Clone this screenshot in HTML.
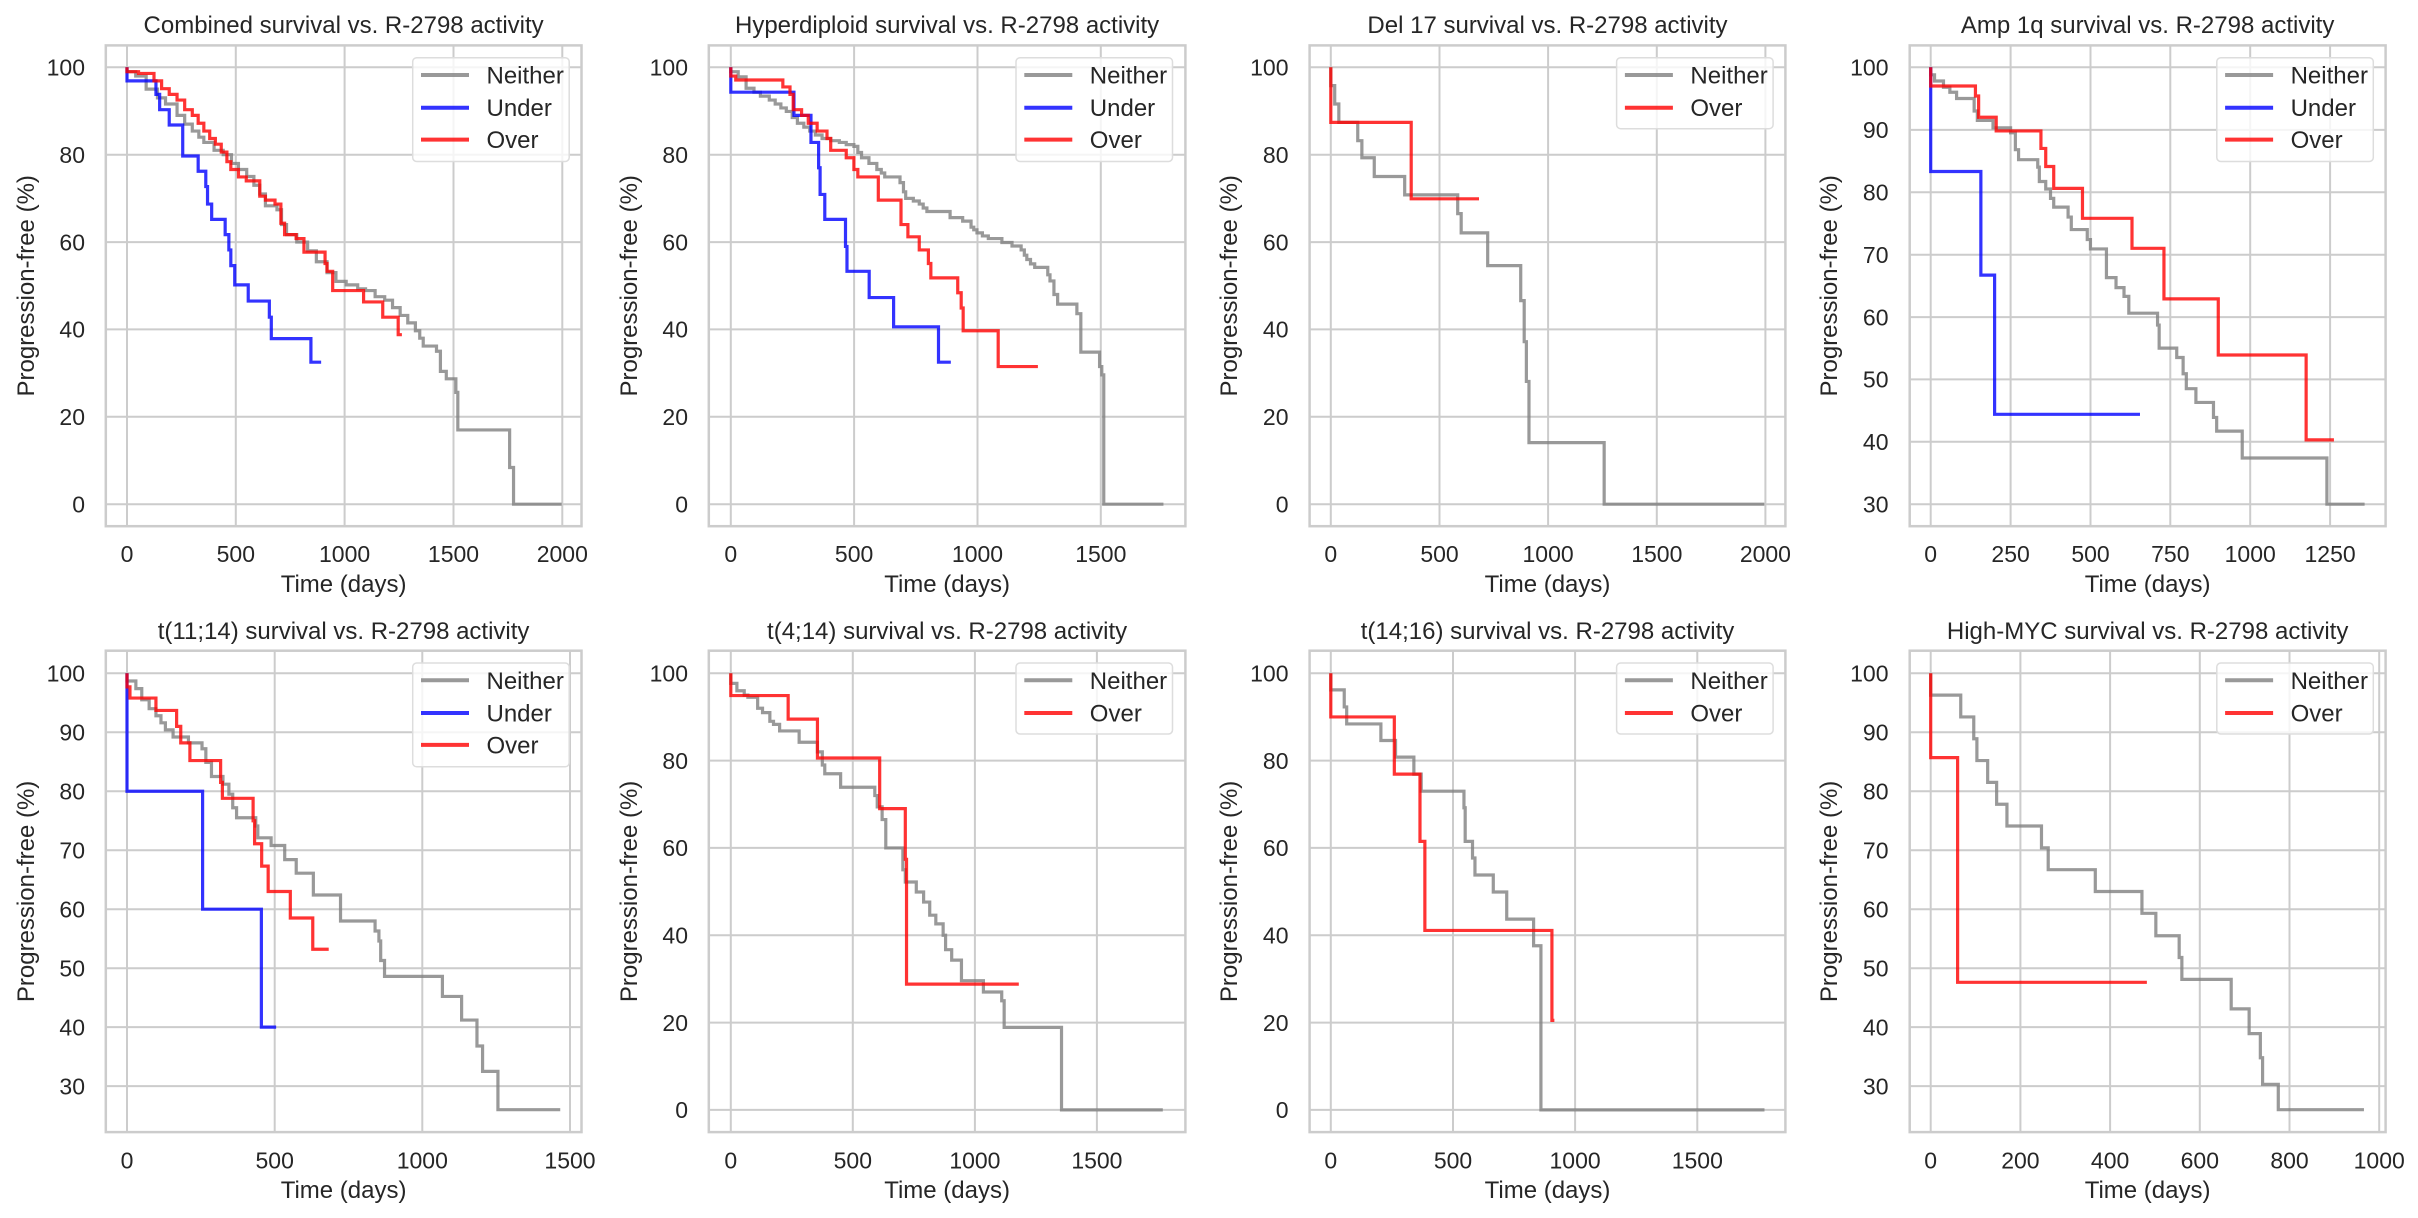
<!DOCTYPE html>
<html><head><meta charset="utf-8"><style>
html,body{margin:0;padding:0;background:#fff}
svg{display:block}
text{font-family:"Liberation Sans",Arial,sans-serif;fill:#262626}
.t{font-size:24px;text-anchor:middle}
.yt{font-size:23px;text-anchor:end}
.xt{font-size:23px;text-anchor:middle}
.lab{font-size:24px;text-anchor:middle}
.lg{font-size:24px}
.grid line{stroke:#cccccc;stroke-width:2}
.frame{fill:none;stroke:#cccccc;stroke-width:2.5}
.c path{fill:none;stroke-width:3.2;vector-effect:non-scaling-stroke;stroke-opacity:.8}
.g{stroke:#808080}.b{stroke:#0000ff}.r{stroke:#ff0000}
.leg rect{fill:#fff;fill-opacity:.8;stroke:#dddddd;stroke-width:1.5}
.leg line{stroke-width:4;stroke-opacity:.8}
</style></head><body>
<svg width="2418" height="1218" viewBox="0 0 2418 1218" xmlns="http://www.w3.org/2000/svg">
<rect width="2418" height="1218" fill="#fff"/>

<!-- ================= P1 ================= -->
<g class="grid">
<line x1="127" y1="45.4" x2="127" y2="526.2"/><line x1="235.8" y1="45.4" x2="235.8" y2="526.2"/><line x1="344.6" y1="45.4" x2="344.6" y2="526.2"/><line x1="453.5" y1="45.4" x2="453.5" y2="526.2"/><line x1="562.3" y1="45.4" x2="562.3" y2="526.2"/>
<line x1="105.8" y1="504.2" x2="581.5" y2="504.2"/><line x1="105.8" y1="416.8" x2="581.5" y2="416.8"/><line x1="105.8" y1="329.4" x2="581.5" y2="329.4"/><line x1="105.8" y1="242.1" x2="581.5" y2="242.1"/><line x1="105.8" y1="154.7" x2="581.5" y2="154.7"/><line x1="105.8" y1="67.3" x2="581.5" y2="67.3"/>
</g>
<rect class="frame" x="105.8" y="45.4" width="475.7" height="480.8"/>
<g class="c" transform="translate(127,504.2) scale(0.21765,-4.369)">
<path class="g" d="M0,100 V99 H40 V98 H88 V95 H140 V93 H177 V91.6 H230 V89 H265 V87 H300 V85.4 H330 V84 H353 V82.8 H400 V81 H442 V80 H480 V78 H512 V76.6 H550 V75 H583 V73 H610 V71 H636 V68.3 H689 V67.4 H710 V64 H733 V61.7 H780 V60 H830 V58 H870 V55.5 H919 V53 H960 V51 H1007 V50.2 H1060 V49.3 H1096 V48.9 H1140 V47.5 H1184 V46.7 H1220 V45 H1255 V43.2 H1290 V41.5 H1325 V39.7 H1345 V38 H1361 V36.2 H1422 V35 H1440 V30.4 H1467 V28.7 H1511 V25.6 H1520 V17 H1758 V8.4 H1776 V0 H1997"/>
<path class="b" d="M0,100 V96.9 H133 V93.8 H150 V90.3 H194 V86.8 H256 V79.7 H327 V76.2 H362 V72.7 H370 V68.7 H389 V65.2 H451 V61.7 H468 V58.2 H477 V54.6 H495 V50.2 H557 V46.5 H654 V42.8 H663 V37.9 H845 V32.5 H892"/>
<path class="r" d="M0,100 V99 H53 V98.6 H124 V96.9 H159 V95.1 H194 V93.8 H230 V92.5 H265 V90.3 H300 V89 H327 V87.2 H353 V85.4 H380 V83.7 H406 V82.4 H433 V80.6 H459 V78.4 H477 V76.6 H512 V74.9 H548 V74 H610 V70.5 H636 V69.6 H680 V68.7 H707 V64.3 H724 V61.7 H777 V60.8 H813 V57.7 H910 V55.1 H919 V53.3 H945 V48.9 H1087 V46.3 H1175 V42.8 H1246 V38.8 H1263"/>
</g>
<g class="leg"><rect x="412.7" y="57.7" width="156.5" height="103.8" rx="4"/>
<line x1="421" y1="75" x2="469" y2="75" stroke="#808080"/><text class="lg" x="486.5" y="83.5">Neither</text>
<line x1="421" y1="107.7" x2="469" y2="107.7" stroke="#0000ff"/><text class="lg" x="486.5" y="116.2">Under</text>
<line x1="421" y1="139.6" x2="469" y2="139.6" stroke="#ff0000"/><text class="lg" x="486.5" y="148.1">Over</text></g>
<text class="t" x="343.6" y="33">Combined survival vs. R-2798 activity</text>
<g class="yt"><text class="yt" x="85" y="512.5">0</text><text class="yt" x="85" y="425">20</text><text class="yt" x="85" y="337.7">40</text><text class="yt" x="85" y="250.4">60</text><text class="yt" x="85" y="163">80</text><text class="yt" x="85" y="75.6">100</text></g>
<text class="xt" x="127" y="562">0</text><text class="xt" x="235.8" y="562">500</text><text class="xt" x="344.6" y="562">1000</text><text class="xt" x="453.5" y="562">1500</text><text class="xt" x="562.3" y="562">2000</text>
<text class="lab" x="343.6" y="592">Time (days)</text>
<text class="lab" transform="translate(34,285.8) rotate(-90)">Progression-free (%)</text>

<!-- ================= P2 ================= -->
<g class="grid">
<line x1="730.8" y1="45.4" x2="730.8" y2="526.2"/><line x1="854.1" y1="45.4" x2="854.1" y2="526.2"/><line x1="977.5" y1="45.4" x2="977.5" y2="526.2"/><line x1="1100.8" y1="45.4" x2="1100.8" y2="526.2"/>
<line x1="708.8" y1="504.2" x2="1185.4" y2="504.2"/><line x1="708.8" y1="416.8" x2="1185.4" y2="416.8"/><line x1="708.8" y1="329.4" x2="1185.4" y2="329.4"/><line x1="708.8" y1="242.1" x2="1185.4" y2="242.1"/><line x1="708.8" y1="154.7" x2="1185.4" y2="154.7"/><line x1="708.8" y1="67.3" x2="1185.4" y2="67.3"/>
</g>
<rect class="frame" x="708.8" y="45.4" width="476.6" height="480.8"/>
<g class="c" transform="translate(730.8,504.2) scale(0.24667,-4.369)">
<path class="g" d="M0,100 V99 H30 V97.8 H62 V95.2 H94 V94.3 H120 V93.4 H156 V92.5 H180 V91.6 H203 V90.7 H225 V89.9 H249 V88.5 H270 V87.2 H296 V86.3 H320 V85.4 H343 V84.5 H370 V83.7 H405 V83.2 H440 V82.8 H468 V82.3 H499 V81.9 H515 V80.5 H530 V79.3 H560 V78 H592 V76.6 H610 V75.8 H624 V74.9 H686 V73.6 H700 V71.5 H709 V70 H740 V69.4 H764 V68.7 H780 V67.8 H795 V67 H889 V65.6 H940 V64.8 H974 V63.4 H985 V62.8 H998 V62.1 H1020 V61.4 H1044 V60.8 H1099 V59.9 H1140 V59.1 H1177 V58.2 H1190 V57 H1200 V56 H1215 V55 H1232 V54.2 H1285 V52.5 H1294 V51.1 H1310 V48 H1325 V45.8 H1403 V43.6 H1419 V34.8 H1495 V31.5 H1504 V29.6 H1512 V0 H1754"/>
<path class="b" d="M0,100 V94.3 H256 V89 H325 V82.8 H356 V77 H362 V70.9 H381 V65.2 H465 V59 H471 V53.3 H561 V47.3 H660 V40.6 H842 V32.5 H892"/>
<path class="r" d="M0,100 V98 H20 V97.1 H211 V95.5 H240 V93.8 H253 V90.3 H287 V89 H314 V87.2 H350 V85.4 H390 V83.7 H405 V81 H468 V79.3 H499 V76.6 H515 V74.9 H598 V69.6 H690 V64 H718 V61.2 H764 V58.2 H801 V55.1 H811 V51.8 H920 V48.4 H934 V44.9 H942 V39.7 H1084 V31.5 H1245"/>
</g>
<g class="leg"><rect x="1016" y="57.7" width="156.5" height="103.8" rx="4"/>
<line x1="1024.3" y1="75" x2="1072.3" y2="75" stroke="#808080"/><text class="lg" x="1089.8" y="83.5">Neither</text>
<line x1="1024.3" y1="107.7" x2="1072.3" y2="107.7" stroke="#0000ff"/><text class="lg" x="1089.8" y="116.2">Under</text>
<line x1="1024.3" y1="139.6" x2="1072.3" y2="139.6" stroke="#ff0000"/><text class="lg" x="1089.8" y="148.1">Over</text></g>
<text class="t" x="947.1" y="33">Hyperdiploid survival vs. R-2798 activity</text>
<text class="yt" x="688" y="512.5">0</text><text class="yt" x="688" y="425">20</text><text class="yt" x="688" y="337.7">40</text><text class="yt" x="688" y="250.4">60</text><text class="yt" x="688" y="163">80</text><text class="yt" x="688" y="75.6">100</text>
<text class="xt" x="730.8" y="562">0</text><text class="xt" x="854.1" y="562">500</text><text class="xt" x="977.5" y="562">1000</text><text class="xt" x="1100.8" y="562">1500</text>
<text class="lab" x="947.1" y="592">Time (days)</text>
<text class="lab" transform="translate(637,285.8) rotate(-90)">Progression-free (%)</text>

<!-- ================= P3 ================= -->
<g class="grid">
<line x1="1330.8" y1="45.4" x2="1330.8" y2="526.2"/><line x1="1439.5" y1="45.4" x2="1439.5" y2="526.2"/><line x1="1548.1" y1="45.4" x2="1548.1" y2="526.2"/><line x1="1656.8" y1="45.4" x2="1656.8" y2="526.2"/><line x1="1765.4" y1="45.4" x2="1765.4" y2="526.2"/>
<line x1="1309.6" y1="504.2" x2="1785.4" y2="504.2"/><line x1="1309.6" y1="416.8" x2="1785.4" y2="416.8"/><line x1="1309.6" y1="329.4" x2="1785.4" y2="329.4"/><line x1="1309.6" y1="242.1" x2="1785.4" y2="242.1"/><line x1="1309.6" y1="154.7" x2="1785.4" y2="154.7"/><line x1="1309.6" y1="67.3" x2="1785.4" y2="67.3"/>
</g>
<rect class="frame" x="1309.6" y="45.4" width="475.8" height="480.8"/>
<g class="c" transform="translate(1330.8,504.2) scale(0.2173,-4.369)">
<path class="g" d="M0,100 V95.8 H18 V91.6 H37 V87.4 H124 V83.2 H143 V79.3 H200 V75 H340 V70.8 H584 V66.5 H600 V62.1 H722 V54.6 H874 V46.6 H890 V37.2 H900 V28.1 H912 V14.1 H1258 V0 H1995"/>
<path class="r" d="M0,100 V87.4 H370 V69.9 H682"/>
</g>
<g class="leg"><rect x="1616.6" y="57.7" width="156.5" height="71" rx="4"/>
<line x1="1624.9" y1="75" x2="1672.9" y2="75" stroke="#808080"/><text class="lg" x="1690.4" y="83.5">Neither</text>
<line x1="1624.9" y1="107.7" x2="1672.9" y2="107.7" stroke="#ff0000"/><text class="lg" x="1690.4" y="116.2">Over</text></g>
<text class="t" x="1547.5" y="33">Del 17 survival vs. R-2798 activity</text>
<text class="yt" x="1288.5" y="512.5">0</text><text class="yt" x="1288.5" y="425">20</text><text class="yt" x="1288.5" y="337.7">40</text><text class="yt" x="1288.5" y="250.4">60</text><text class="yt" x="1288.5" y="163">80</text><text class="yt" x="1288.5" y="75.6">100</text>
<text class="xt" x="1330.8" y="562">0</text><text class="xt" x="1439.5" y="562">500</text><text class="xt" x="1548.1" y="562">1000</text><text class="xt" x="1656.8" y="562">1500</text><text class="xt" x="1765.4" y="562">2000</text>
<text class="lab" x="1547.5" y="592">Time (days)</text>
<text class="lab" transform="translate(1237,285.8) rotate(-90)">Progression-free (%)</text>

<!-- ================= P4 ================= -->
<g class="grid">
<line x1="1930.7" y1="45.4" x2="1930.7" y2="526.2"/><line x1="2010.6" y1="45.4" x2="2010.6" y2="526.2"/><line x1="2090.5" y1="45.4" x2="2090.5" y2="526.2"/><line x1="2170.3" y1="45.4" x2="2170.3" y2="526.2"/><line x1="2250.2" y1="45.4" x2="2250.2" y2="526.2"/><line x1="2330.1" y1="45.4" x2="2330.1" y2="526.2"/>
<line x1="1909.7" y1="504.2" x2="2385.6" y2="504.2"/><line x1="1909.7" y1="441.8" x2="2385.6" y2="441.8"/><line x1="1909.7" y1="379.4" x2="2385.6" y2="379.4"/><line x1="1909.7" y1="317.1" x2="2385.6" y2="317.1"/><line x1="1909.7" y1="254.7" x2="2385.6" y2="254.7"/><line x1="1909.7" y1="192.3" x2="2385.6" y2="192.3"/><line x1="1909.7" y1="129.9" x2="2385.6" y2="129.9"/><line x1="1909.7" y1="67.3" x2="2385.6" y2="67.3"/>
</g>
<rect class="frame" x="1909.7" y="45.4" width="475.9" height="480.8"/>
<g class="c" transform="translate(1930.7,691.4) scale(0.31952,-6.241)">
<path class="g" d="M0,100 V98.8 H12 V97.8 H40 V96.8 H60 V96 H81 V95 H136 V93 H146 V91.5 H195 V90.3 H250 V89.5 H265 V86.8 H275 V85.2 H335 V84 H340 V81.7 H360 V80.5 H375 V79 H385 V77.6 H430 V76 H440 V74 H490 V72.4 H500 V70.9 H550 V66.3 H580 V64.7 H605 V63.3 H620 V60.6 H710 V58.7 H715 V55 H770 V53.5 H790 V50.9 H800 V48.5 H830 V46.3 H885 V43.9 H895 V41.7 H975 V37.4 H1240 V30 H1358"/>
<path class="b" d="M0,100 V83.3 H157 V66.7 H200 V44.4 H655"/>
<path class="r" d="M0,100 V97 H140 V95.4 H150 V92 H205 V89.8 H345 V87 H360 V84.1 H385 V80.6 H475 V75.8 H630 V71 H730 V62.9 H900 V53.9 H1175 V40.3 H1262"/>
</g>
<g class="leg"><rect x="2216.8" y="57.7" width="156.5" height="103.8" rx="4"/>
<line x1="2225.1" y1="75" x2="2273.1" y2="75" stroke="#808080"/><text class="lg" x="2290.6" y="83.5">Neither</text>
<line x1="2225.1" y1="107.7" x2="2273.1" y2="107.7" stroke="#0000ff"/><text class="lg" x="2290.6" y="116.2">Under</text>
<line x1="2225.1" y1="139.6" x2="2273.1" y2="139.6" stroke="#ff0000"/><text class="lg" x="2290.6" y="148.1">Over</text></g>
<text class="t" x="2147.6" y="33">Amp 1q survival vs. R-2798 activity</text>
<text class="yt" x="1888.5" y="512.5">30</text><text class="yt" x="1888.5" y="450.1">40</text><text class="yt" x="1888.5" y="387.7">50</text><text class="yt" x="1888.5" y="325.4">60</text><text class="yt" x="1888.5" y="263">70</text><text class="yt" x="1888.5" y="200.6">80</text><text class="yt" x="1888.5" y="138.2">90</text><text class="yt" x="1888.5" y="75.6">100</text>
<text class="xt" x="1930.7" y="562">0</text><text class="xt" x="2010.6" y="562">250</text><text class="xt" x="2090.5" y="562">500</text><text class="xt" x="2170.3" y="562">750</text><text class="xt" x="2250.2" y="562">1000</text><text class="xt" x="2330.1" y="562">1250</text>
<text class="lab" x="2147.6" y="592">Time (days)</text>
<text class="lab" transform="translate(1837,285.8) rotate(-90)">Progression-free (%)</text>

<!-- ================= P5 ================= -->
<g class="grid">
<line x1="127" y1="650.7" x2="127" y2="1132.1"/><line x1="274.7" y1="650.7" x2="274.7" y2="1132.1"/><line x1="422.3" y1="650.7" x2="422.3" y2="1132.1"/><line x1="570" y1="650.7" x2="570" y2="1132.1"/>
<line x1="105.8" y1="1086.1" x2="581.5" y2="1086.1"/><line x1="105.8" y1="1027.1" x2="581.5" y2="1027.1"/><line x1="105.8" y1="968.2" x2="581.5" y2="968.2"/><line x1="105.8" y1="909.2" x2="581.5" y2="909.2"/><line x1="105.8" y1="850.3" x2="581.5" y2="850.3"/><line x1="105.8" y1="791.3" x2="581.5" y2="791.3"/><line x1="105.8" y1="732.3" x2="581.5" y2="732.3"/><line x1="105.8" y1="673.3" x2="581.5" y2="673.3"/>
</g>
<rect class="frame" x="105.8" y="650.7" width="475.7" height="481.4"/>
<g class="c" transform="translate(127,1263) scale(0.29533,-5.897)">
<path class="g" d="M0,100 V98.7 H30 V97.4 H50 V95.5 H75 V94 H98 V92.8 H115 V91.6 H130 V90.4 H156 V89.2 H208 V88.2 H254 V87.2 H267 V84.9 H286 V82.5 H325 V81.2 H345 V79.5 H358 V77.2 H371 V75.5 H436 V74.1 H443 V72.1 H488 V70.8 H534 V68.4 H573 V66.1 H631 V62.4 H723 V58 H840 V56.3 H853 V54.6 H859 V51.3 H872 V48.6 H1068 V45.2 H1133 V41.2 H1185 V36.8 H1204 V32.5 H1256 V26 H1467"/>
<path class="b" d="M0,100 V80 H256 V60 H455 V40 H505"/>
<path class="r" d="M0,100 V97.7 H10 V95.8 H98 V93.7 H168 V91 H182 V88.2 H213 V85.2 H317 V81.5 H323 V78.8 H427 V75 H432 V71.1 H456 V67.3 H478 V63 H553 V58.5 H629 V53.2 H683"/>
</g>
<g class="leg"><rect x="412.7" y="663" width="156.5" height="103.8" rx="4"/>
<line x1="421" y1="680.3" x2="469" y2="680.3" stroke="#808080"/><text class="lg" x="486.5" y="688.8">Neither</text>
<line x1="421" y1="713" x2="469" y2="713" stroke="#0000ff"/><text class="lg" x="486.5" y="721.5">Under</text>
<line x1="421" y1="744.9" x2="469" y2="744.9" stroke="#ff0000"/><text class="lg" x="486.5" y="753.4">Over</text></g>
<text class="t" x="343.6" y="639">t(11;14) survival vs. R-2798 activity</text>
<text class="yt" x="85" y="1094.4">30</text><text class="yt" x="85" y="1035.4">40</text><text class="yt" x="85" y="976.5">50</text><text class="yt" x="85" y="917.5">60</text><text class="yt" x="85" y="858.6">70</text><text class="yt" x="85" y="799.6">80</text><text class="yt" x="85" y="740.6">90</text><text class="yt" x="85" y="681.6">100</text>
<text class="xt" x="127" y="1168.5">0</text><text class="xt" x="274.7" y="1168.5">500</text><text class="xt" x="422.3" y="1168.5">1000</text><text class="xt" x="570" y="1168.5">1500</text>
<text class="lab" x="343.6" y="1198">Time (days)</text>
<text class="lab" transform="translate(34,891.4) rotate(-90)">Progression-free (%)</text>

<!-- ================= P6 ================= -->
<g class="grid">
<line x1="730.8" y1="650.7" x2="730.8" y2="1132.1"/><line x1="852.8" y1="650.7" x2="852.8" y2="1132.1"/><line x1="974.9" y1="650.7" x2="974.9" y2="1132.1"/><line x1="1096.9" y1="650.7" x2="1096.9" y2="1132.1"/>
<line x1="708.8" y1="1109.9" x2="1185.4" y2="1109.9"/><line x1="708.8" y1="1022.6" x2="1185.4" y2="1022.6"/><line x1="708.8" y1="935.3" x2="1185.4" y2="935.3"/><line x1="708.8" y1="847.9" x2="1185.4" y2="847.9"/><line x1="708.8" y1="760.6" x2="1185.4" y2="760.6"/><line x1="708.8" y1="673.3" x2="1185.4" y2="673.3"/>
</g>
<rect class="frame" x="708.8" y="650.7" width="476.6" height="481.4"/>
<g class="c" transform="translate(730.8,1109.9) scale(0.24407,-4.366)">
<path class="g" d="M0,100 V97.7 H25 V96 H55 V95 H70 V94.5 H110 V92 H130 V91 H160 V89 H175 V88.3 H200 V86.8 H280 V84.2 H355 V82 H375 V79 H385 V77 H450 V73.9 H590 V72 H600 V69.4 H620 V66.5 H635 V60 H705 V55 H715 V52.2 H760 V49.9 H790 V47.6 H815 V44.6 H840 V42.6 H870 V40 H880 V36.7 H905 V34.3 H945 V29.6 H1035 V27 H1110 V25 H1120 V18.9 H1355 V0 H1770"/>
<path class="r" d="M0,100 V94.9 H235 V89.5 H355 V80.6 H610 V69 H715 V57.4 H720 V28.8 H1180"/>
</g>
<g class="leg"><rect x="1016" y="663" width="156.5" height="71" rx="4"/>
<line x1="1024.3" y1="680.3" x2="1072.3" y2="680.3" stroke="#808080"/><text class="lg" x="1089.8" y="688.8">Neither</text>
<line x1="1024.3" y1="713" x2="1072.3" y2="713" stroke="#ff0000"/><text class="lg" x="1089.8" y="721.5">Over</text></g>
<text class="t" x="947.1" y="639">t(4;14) survival vs. R-2798 activity</text>
<text class="yt" x="688" y="1118.2">0</text><text class="yt" x="688" y="1030.9">20</text><text class="yt" x="688" y="943.6">40</text><text class="yt" x="688" y="856.2">60</text><text class="yt" x="688" y="768.9">80</text><text class="yt" x="688" y="681.6">100</text>
<text class="xt" x="730.8" y="1168.5">0</text><text class="xt" x="852.8" y="1168.5">500</text><text class="xt" x="974.9" y="1168.5">1000</text><text class="xt" x="1096.9" y="1168.5">1500</text>
<text class="lab" x="947.1" y="1198">Time (days)</text>
<text class="lab" transform="translate(637,891.4) rotate(-90)">Progression-free (%)</text>

<!-- ================= P7 ================= -->
<g class="grid">
<line x1="1330.8" y1="650.7" x2="1330.8" y2="1132.1"/><line x1="1453" y1="650.7" x2="1453" y2="1132.1"/><line x1="1575.1" y1="650.7" x2="1575.1" y2="1132.1"/><line x1="1697.3" y1="650.7" x2="1697.3" y2="1132.1"/>
<line x1="1309.6" y1="1109.9" x2="1785.4" y2="1109.9"/><line x1="1309.6" y1="1022.6" x2="1785.4" y2="1022.6"/><line x1="1309.6" y1="935.3" x2="1785.4" y2="935.3"/><line x1="1309.6" y1="847.9" x2="1785.4" y2="847.9"/><line x1="1309.6" y1="760.6" x2="1785.4" y2="760.6"/><line x1="1309.6" y1="673.3" x2="1785.4" y2="673.3"/>
</g>
<rect class="frame" x="1309.6" y="650.7" width="475.8" height="481.4"/>
<g class="c" transform="translate(1330.8,1109.9) scale(0.24433,-4.366)">
<path class="g" d="M0,100 V96.2 H55 V92.3 H65 V88.4 H205 V84.6 H265 V80.8 H340 V76.9 H370 V73 H545 V69.2 H550 V61.5 H580 V57.7 H590 V53.8 H665 V49.9 H720 V43.7 H830 V37.6 H860 V0 H1775"/>
<path class="r" d="M0,100 V90 H260 V76.9 H365 V61.5 H385 V41.1 H905 V20.5 H915"/>
</g>
<g class="leg"><rect x="1616.6" y="663" width="156.5" height="71" rx="4"/>
<line x1="1624.9" y1="680.3" x2="1672.9" y2="680.3" stroke="#808080"/><text class="lg" x="1690.4" y="688.8">Neither</text>
<line x1="1624.9" y1="713" x2="1672.9" y2="713" stroke="#ff0000"/><text class="lg" x="1690.4" y="721.5">Over</text></g>
<text class="t" x="1547.5" y="639">t(14;16) survival vs. R-2798 activity</text>
<text class="yt" x="1288.5" y="1118.2">0</text><text class="yt" x="1288.5" y="1030.9">20</text><text class="yt" x="1288.5" y="943.6">40</text><text class="yt" x="1288.5" y="856.2">60</text><text class="yt" x="1288.5" y="768.9">80</text><text class="yt" x="1288.5" y="681.6">100</text>
<text class="xt" x="1330.8" y="1168.5">0</text><text class="xt" x="1453" y="1168.5">500</text><text class="xt" x="1575.1" y="1168.5">1000</text><text class="xt" x="1697.3" y="1168.5">1500</text>
<text class="lab" x="1547.5" y="1198">Time (days)</text>
<text class="lab" transform="translate(1237,891.4) rotate(-90)">Progression-free (%)</text>

<!-- ================= P8 ================= -->
<g class="grid">
<line x1="1930.7" y1="650.7" x2="1930.7" y2="1132.1"/><line x1="2020.4" y1="650.7" x2="2020.4" y2="1132.1"/><line x1="2110.1" y1="650.7" x2="2110.1" y2="1132.1"/><line x1="2199.8" y1="650.7" x2="2199.8" y2="1132.1"/><line x1="2289.5" y1="650.7" x2="2289.5" y2="1132.1"/><line x1="2379.2" y1="650.7" x2="2379.2" y2="1132.1"/>
<line x1="1909.7" y1="1086.1" x2="2385.6" y2="1086.1"/><line x1="1909.7" y1="1027.1" x2="2385.6" y2="1027.1"/><line x1="1909.7" y1="968.2" x2="2385.6" y2="968.2"/><line x1="1909.7" y1="909.2" x2="2385.6" y2="909.2"/><line x1="1909.7" y1="850.3" x2="2385.6" y2="850.3"/><line x1="1909.7" y1="791.3" x2="2385.6" y2="791.3"/><line x1="1909.7" y1="732.3" x2="2385.6" y2="732.3"/><line x1="1909.7" y1="673.3" x2="2385.6" y2="673.3"/>
</g>
<rect class="frame" x="1909.7" y="650.7" width="475.9" height="481.4"/>
<g class="c" transform="translate(1930.7,1263) scale(0.4485,-5.897)">
<path class="g" d="M0,100 V96.3 H67 V92.6 H96 V88.9 H103 V85.2 H127 V81.5 H147 V77.8 H170 V74.1 H247 V70.4 H262 V66.7 H367 V63 H471 V59.3 H502 V55.5 H554 V51.8 H560 V48.1 H670 V43.1 H710 V38.9 H735 V34.8 H740 V30.3 H775 V26 H966"/>
<path class="r" d="M0,100 V85.7 H60 V47.6 H482"/>
</g>
<g class="leg"><rect x="2216.8" y="663" width="156.5" height="71" rx="4"/>
<line x1="2225.1" y1="680.3" x2="2273.1" y2="680.3" stroke="#808080"/><text class="lg" x="2290.6" y="688.8">Neither</text>
<line x1="2225.1" y1="713" x2="2273.1" y2="713" stroke="#ff0000"/><text class="lg" x="2290.6" y="721.5">Over</text></g>
<text class="t" x="2147.6" y="639">High-MYC survival vs. R-2798 activity</text>
<text class="yt" x="1888.5" y="1094.4">30</text><text class="yt" x="1888.5" y="1035.4">40</text><text class="yt" x="1888.5" y="976.5">50</text><text class="yt" x="1888.5" y="917.5">60</text><text class="yt" x="1888.5" y="858.6">70</text><text class="yt" x="1888.5" y="799.6">80</text><text class="yt" x="1888.5" y="740.6">90</text><text class="yt" x="1888.5" y="681.6">100</text>
<text class="xt" x="1930.7" y="1168.5">0</text><text class="xt" x="2020.4" y="1168.5">200</text><text class="xt" x="2110.1" y="1168.5">400</text><text class="xt" x="2199.8" y="1168.5">600</text><text class="xt" x="2289.5" y="1168.5">800</text><text class="xt" x="2379.2" y="1168.5">1000</text>
<text class="lab" x="2147.6" y="1198">Time (days)</text>
<text class="lab" transform="translate(1837,891.4) rotate(-90)">Progression-free (%)</text>
</svg>
</body></html>
